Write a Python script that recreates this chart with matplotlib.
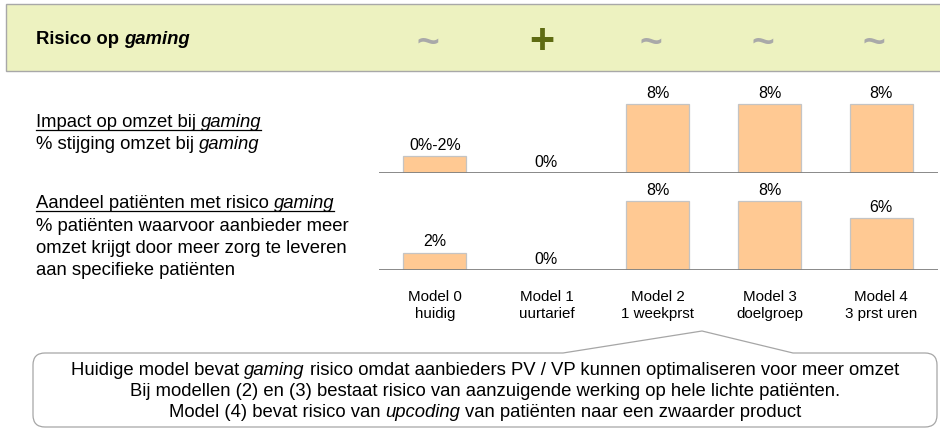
import matplotlib
matplotlib.use("Agg")
import matplotlib.pyplot as plt
from matplotlib.patches import Rectangle, PathPatch
from matplotlib.path import Path
from matplotlib import transforms

plt.rcParams["font.family"] = ["Liberation Sans", "DejaVu Sans"]

# data
models = ["Model 0\nhuidig", "Model 1\nuurtarief", "Model 2\n1 weekprst",
          "Model 3\ndoelgroep", "Model 4\n3 prst uren"]
risk_symbols = ["~", "+", "~", "~", "~"]
impact_values = [2, 0, 8, 8, 8]
impact_labels = ["0%-2%", "0%", "8%", "8%", "8%"]
share_values = [2, 0, 8, 8, 6]
share_labels = ["2%", "0%", "8%", "8%", "6%"]

BAR = "#FFC993"
EDGE = "#C4C4C4"
BASE = "#808080"

W, H = 940, 429
fig = plt.figure(figsize=(W / 100, H / 100), dpi=100)
bg = fig.add_axes([0, 0, 1, 1])
bg.set_xlim(0, W)
bg.set_ylim(H, 0)
bg.axis("off")
rend = fig.canvas.get_renderer()


def px_axes(x0, y0, x1, y1):
    return fig.add_axes([x0 / W, 1 - y1 / H, (x1 - x0) / W, (y1 - y0) / H])


def draw_runs(x, y, parts, size, weight="normal", ha="left", underline=False):
    # tekststukken (normaal / cursief) achter elkaar op één basislijn
    space = size * 100 / 72 * 0.278
    widths = []
    for s, style in parts:
        t = bg.text(0, 0, s.strip(), fontsize=size, style=style, weight=weight)
        w = t.get_window_extent(rend).width
        t.remove()
        if s.endswith(" "):
            w += space
        widths.append(w)
    total = sum(widths)
    cur = x - total / 2 if ha == "center" else x
    start = cur
    for (s, style), w in zip(parts, widths):
        bg.text(cur, y, s.strip(), fontsize=size, style=style, weight=weight,
                va="baseline", ha="left", color="black")
        cur += w
    if underline:
        bg.plot([start, cur - 1], [y + 2.5, y + 2.5], color="black", lw=0.9)


# kopbalk
bg.add_patch(Rectangle((6, 4), W + 30, 67, facecolor="#EDF2C0",
                       edgecolor="#A8A8A8", lw=1.0))
draw_runs(36, 44, [("Risico op ", "normal"), ("gaming", "italic")], 13.3,
          weight="bold")

# assen voor de staafdiagrammen
x_lo, x_hi = -0.502, 4.511
unit = 69 / 8
top = px_axes(379, 173 - 10 * unit, 938, 173)
bot = px_axes(379, 270 - 10 * unit, 938, 270)

for ax, vals, labs in [(top, impact_values, impact_labels),
                       (bot, share_values, share_labels)]:
    xs = range(len(vals))
    ax.bar(xs, vals, width=0.565, color=BAR, edgecolor=EDGE, linewidth=0.9,
           zorder=2)
    for i, (v, lab) in enumerate(zip(vals, labs)):
        ax.annotate(lab, (i, v), xytext=(0, 4.5), textcoords="offset points",
                    ha="center", va="baseline", fontsize=11.5)
    ax.axhline(0, color=BASE, lw=1.3, zorder=3)
    ax.set_xlim(x_lo, x_hi)
    ax.set_ylim(0, 10)
    ax.axis("off")

# x-labels en risicosymbolen op kolomposities
mix = transforms.blended_transform_factory(bot.transData, bg.transData)
for i, m in enumerate(models):
    first, second = m.split("\n")
    bg.text(i, 301, first, transform=mix, ha="center", va="baseline",
            fontsize=10.9)
    bg.text(i, 318, second, transform=mix, ha="center", va="baseline",
            fontsize=10.9)
for i, s in enumerate(risk_symbols):
    if s == "+":
        bg.text(i - 0.04, 41.5, s, transform=mix, ha="center", va="center",
                fontsize=31, weight="bold", color="#5E6B12")
    else:
        bg.text(i - 0.06, 44, s, transform=mix, ha="center", va="center",
                fontsize=28, weight="bold", color="#A9A9A9")

# tekst links
FS = 13.3
draw_runs(36, 127, [("Impact op omzet bij ", "normal"), ("gaming", "italic")],
          FS, underline=True)
draw_runs(36, 149, [("% stijging omzet bij ", "normal"), ("gaming", "italic")], FS)
draw_runs(36, 208, [("Aandeel patiënten met risico ", "normal"),
                    ("gaming", "italic")], FS, underline=True)
draw_runs(36, 231, [("% patiënten waarvoor aanbieder meer", "normal")], FS)
draw_runs(36, 253, [("omzet krijgt door meer zorg te leveren", "normal")], FS)
draw_runs(36, 275, [("aan specifieke patiënten", "normal")], FS)

# toelichting in tekstballon
L, R, T, B, r = 33, 937, 353, 427, 12
verts = [(L + r, T), (563, T), (702, 331), (793, T), (R - r, T),
         (R, T), (R, T + r), (R, B - r), (R, B), (R - r, B), (L + r, B),
         (L, B), (L, B - r), (L, T + r), (L, T), (L + r, T), (L + r, T)]
codes = [Path.MOVETO, Path.LINETO, Path.LINETO, Path.LINETO, Path.LINETO,
         Path.CURVE3, Path.CURVE3, Path.LINETO, Path.CURVE3, Path.CURVE3,
         Path.LINETO, Path.CURVE3, Path.CURVE3, Path.LINETO, Path.CURVE3,
         Path.CURVE3, Path.CLOSEPOLY]
bg.add_patch(PathPatch(Path(verts, codes), facecolor="white",
                       edgecolor="#A6A6A6", lw=0.9))

cx = 485
CS = 13.3
draw_runs(cx, 375, [("Huidige model bevat ", "normal"), ("gaming ", "italic"),
                    ("risico omdat aanbieders PV / VP kunnen optimaliseren voor meer omzet",
                     "normal")], CS, ha="center")
draw_runs(cx, 396, [("Bij modellen (2) en (3) bestaat risico van aanzuigende werking op hele lichte patiënten.",
                     "normal")], CS, ha="center")
draw_runs(cx, 417, [("Model (4) bevat risico van ", "normal"), ("upcoding ", "italic"),
                    ("van patiënten naar een zwaarder product", "normal")],
          CS, ha="center")

fig.savefig("out.png", dpi=100)
